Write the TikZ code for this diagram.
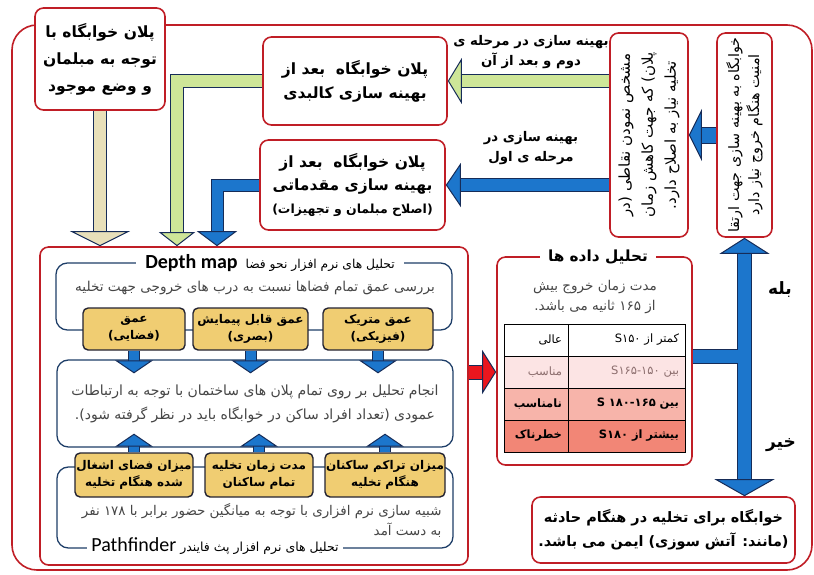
\documentclass[tikz,border=0pt]{standalone}
\usepackage{fontspec}
\usepackage{tikz}
\usetikzlibrary{arrows.meta,calc,positioning}
\TeXXeTstate=1
\newfontfamily\fa[Script=Arabic]{DejaVu Sans}
\newfontfamily\lat{Carlito}
\newcommand{\rl}[1]{\beginR#1\endR}
\newcommand{\lr}[1]{\beginL#1\endL{}}
\definecolor{boxred}{RGB}{192,30,38}
\definecolor{frameblue}{RGB}{30,62,104}
\definecolor{arrowline}{RGB}{22,44,88}
\definecolor{arrowblue}{RGB}{28,118,204}
\definecolor{arrowgreen}{RGB}{206,230,152}
\definecolor{arrowbeige}{RGB}{232,224,186}
\definecolor{arrowred}{RGB}{234,22,30}
\definecolor{goldfill}{RGB}{240,205,114}
\definecolor{goldline}{RGB}{35,35,50}
\definecolor{rowa}{RGB}{252,228,228}
\definecolor{rowb}{RGB}{247,180,170}
\definecolor{rowc}{RGB}{242,134,118}
\definecolor{txtgray}{RGB}{70,70,70}
\definecolor{txtpink}{RGB}{140,110,110}
\begin{document}
\begin{tikzpicture}[x=1pt,y=-1pt]
        %
        % `plan' is used for the red boxes.
        % `blueframe' is used for the thin frames inside the analysis box.
        % `goldbox' is used for the yellow parameter boxes.
        \tikzstyle{plan} = [draw=boxred,fill=white,line width=1.6pt,rounded corners=3mm,align=center,inner sep=2pt]
        \tikzstyle{blueframe} = [draw=frameblue,line width=1.3pt,rounded corners=4mm,minimum width=396pt]
        \tikzstyle{goldbox} = [draw=goldline,fill=goldfill,line width=1.4pt,rounded corners=1.8mm,align=center,inner sep=1pt,font=\fa\bfseries\fontsize{12}{17}\selectfont]
        \tikzstyle{cell} = [draw=black,line width=.7pt,minimum height=32pt,inner xsep=6pt,align=right,font=\fa\fontsize{11.5}{13}\selectfont]
        \tikzstyle{lbl} = [align=center,font=\fa\bfseries\fontsize{13.3}{20}\selectfont]
        \tikzset{fatarrow/.style n args={4}{draw=#1,line width=#2,
             -{Triangle[length=#4,width=#3,fill=#1,color=arrowline,line width'=1pt]},
             preaction={draw=arrowline,line width=#2+2pt,shorten >=#4-1.5pt,-}},
           fatshaft/.style 2 args={draw=#1,line width=#2,preaction={draw=arrowline,line width=#2+2pt}}}
        \useasboundingbox (0,0) rectangle (814,574);
        %
        % Outer frame
        \draw[draw=boxred,line width=1.6pt,rounded corners=25pt] (12,25) rectangle (812,570);
        %
        % Plans
        \node[plan,minimum width=130pt,minimum height=102pt,font=\fa\bfseries\fontsize{15.5}{27}\selectfont] (plancur) at (100,59)
             {\rl{پلان خوابگاه با}\\\rl{توجه به مبلمان}\\\rl{و وضع موجود}};
        \node[plan,minimum width=184pt,minimum height=88pt,font=\fa\bfseries\fontsize{15.5}{24}\selectfont] (plankal) at (355,81)
             {\rl{پلان خوابگاه\ \ بعد از}\\\rl{بهینه سازی کالبدی}};
        \node[plan,minimum width=185pt,minimum height=90pt,font=\fa\bfseries\fontsize{15.5}{23}\selectfont] (planmoq) at (352.5,185)
             {\rl{پلان خوابگاه\ \ بعد از}\\\rl{بهینه سازی مقدماتی}\\{\fontsize{12.5}{23}\selectfont\rl{(اصلاح مبلمان و تجهیزات)}}};
        %
        % Vertical boxes (text turned)
        \node[plan,rotate=90,minimum width=204pt,minimum height=78pt,font=\fa\fontsize{15}{23}\selectfont] (noqat) at (649,135)
             {\rl{مشخص نمودن نقاطی (در}\\\rl{پلان) که جهت کاهش زمان}\\\rl{تخلیه نیاز به اصلاح دارد.}};
        \node[plan,rotate=90,minimum width=204pt,minimum height=55pt,font=\fa\fontsize{14.3}{20}\selectfont] (amniat) at (744.5,135)
             {\rl{خوابگاه به بهینه سازی جهت ارتقا}\\\rl{امنیت هنگام خروج نیاز دارد}};
        %
        % Labels on arrows
        \node[lbl] (lbldovom) at (531,52) {\rl{بهینه سازی در مرحله ی}\\\rl{دوم و بعد از آن}};
        \node[lbl] (lblaval) at (531,148) {\rl{بهینه سازی در}\\\rl{مرحله ی اول}};
        %
        % Analysis box
        \node[plan,minimum width=428pt,minimum height=318pt] (tahlil) at (254,406) {};
        \node[blueframe,minimum height=67pt] (depthrect) at (254,296.5) {};
        \node[fill=white,inner xsep=9pt,inner ysep=1pt,text=txtgray,font=\fa\fontsize{12.3}{13}\selectfont] (depthtitle) at (270,263)
             {\rl{تحلیل های نرم افزار نحو فضا\ \ {\lat\bfseries\fontsize{20}{20}\selectfont\color{black}\lr{Depth map}}}};
        \node[text=txtgray,font=\fa\fontsize{13.6}{15}\selectfont] (depthtxt) at (255,288)
             {\rl{بررسی عمق تمام فضاها نسبت به درب های خروجی جهت تخلیه}};
        \node[blueframe,minimum height=87pt,align=center,text=txtgray,font=\fa\fontsize{14}{24}\selectfont] (amudi) at (255,403.5)
             {\rl{انجام تحلیل بر روی تمام پلان های ساختمان با توجه به ارتباطات}\\\rl{عمودی (تعداد افراد ساکن در خوابگاه باید در نظر گرفته شود).}};
        \node[blueframe,minimum height=81pt] (pathrect) at (255,507.5) {};
        \node[anchor=east,align=right,text=txtgray,font=\fa\fontsize{13.4}{20}\selectfont] (simtxt) at (445,520)
             {\rl{شبیه سازی نرم افزاری با توجه به میانگین حضور برابر با ۱۷۸ نفر}\\\rl{به دست آمد}};
        \node[fill=white,inner xsep=4pt,inner ysep=0pt,text=txtgray,font=\fa\fontsize{12.5}{13}\selectfont] (pathtitle) at (215,546)
             {\rl{تحلیل های نرم افزار پث فایندر\ {\lat\fontsize{20}{20}\selectfont\color{black}\lr{Pathfinder}}}};
        %
        % Depth map parameters
        \node[goldbox,minimum width=102pt,minimum height=42pt] (gt1) at (134,329) {\rl{عمق}\\\rl{(فضایی)}};
        \node[goldbox,minimum width=115pt,minimum height=42pt] (gt2) at (250.5,329) {\rl{عمق قابل پیمایش}\\\rl{(بصری)}};
        \node[goldbox,minimum width=110pt,minimum height=42pt] (gt3) at (378,329) {\rl{عمق متریک}\\\rl{(فیزیکی)}};
        %
        % Pathfinder parameters
        \node[goldbox,minimum width=118pt,minimum height=44pt] (gb1) at (134,475) {\rl{میزان فضای اشغال}\\\rl{شده هنگام تخلیه}};
        \node[goldbox,minimum width=108pt,minimum height=44pt] (gb2) at (259,475) {\rl{مدت زمان تخلیه}\\\rl{تمام ساکنان}};
        \node[goldbox,minimum width=120pt,minimum height=44pt] (gb3) at (385,475) {\rl{میزان تراکم ساکنان}\\\rl{هنگام تخلیه}};
        %
        % Data analysis box
        \node[plan,minimum width=195pt,minimum height=208pt] (dadeh) at (594.5,361) {};
        \node[fill=white,inner xsep=8pt,font=\fa\bfseries\fontsize{15.3}{16}\selectfont] (dadehtitle) at (598,257) {\rl{تحلیل داده ها}};
        \node[align=center,text=txtgray,font=\fa\fontsize{13.5}{20}\selectfont] (dadehtxt) at (595,297)
             {\rl{مدت زمان خروج بیش}\\\rl{از ۱۶۵ ثانیه می باشد.}};
        \foreach \i/\rowcol/\tcol/\fw/\lbltxt/\rng in {1/white/black/\mdseries/عالی/{کمتر از \lr{S۱۵۰}},
                                                  2/rowa/txtpink/\mdseries/مناسب/{بین \lr{S۱۶۵-۱۵۰}},
                                                  3/rowb/black/\bfseries/نامناسب/{بین \lr{S ۱۸۰-۱۶۵}},
                                                  4/rowc/black/\bfseries/خطرناک/{بیشتر از \lr{S۱۸۰}}}{
             \node[cell,fill=\rowcol,text=\tcol,text width=52pt] (ca\i) at (536,308+32*\i) {\fw\rl{\lbltxt}};
             \node[cell,fill=\rowcol,text=\tcol,text width=105pt] (cb\i) at (626.5,308+32*\i) {\fw\rl{\rng}};
        }
        %
        % Safe result
        \node[plan,minimum width=263pt,minimum height=66pt,font=\fa\bfseries\fontsize{14.4}{24}\selectfont] (amn) at (663.5,530)
             {\rl{خوابگاه برای تخلیه در هنگام حادثه}\\\rl{(مانند: آتش سوزی) ایمن می باشد.}};
        \node[lbl,font=\fa\bfseries\fontsize{17}{20}\selectfont] (bale) at (780,290) {\rl{بله}};
        \node[lbl,font=\fa\bfseries\fontsize{17}{20}\selectfont] (kheir) at (781,445) {\rl{خیر}};
        %
        % Arrows (top part)
        \draw[fatarrow={arrowblue}{15pt}{52pt}{13pt}] (amniat.north) -- (noqat.south);
        \draw[fatarrow={arrowgreen}{12pt}{46pt}{14pt}] (noqat.north |- plankal.east) -- (plankal.east);
        \draw[fatarrow={arrowblue}{12pt}{44pt}{15pt}] (noqat.north |- planmoq.east) -- (planmoq.east);
        \draw[fatarrow={arrowbeige}{12pt}{60pt}{15pt}] (plancur.south) -- (plancur.south |- tahlil.north);
        \draw[fatarrow={arrowgreen}{12pt}{36pt}{14pt}] (plankal.west) -| ([xshift=-77pt]tahlil.north);
        \draw[fatarrow={arrowblue}{11pt}{40pt}{15pt}] (planmoq.west) -| ([xshift=-37pt]tahlil.north);
        %
        % Arrows (analysis box)
        \foreach \k in {1,2,3}{
             \draw[fatarrow={arrowblue}{10pt}{38pt}{13pt}] (gt\k.south) -- ($(gt\k.south |- amudi.north)+(0,14)$);
             \draw[fatarrow={arrowblue}{10pt}{38pt}{13pt}] (gb\k.north) -- ($(gb\k.north |- amudi.south)+(0,-14)$);
        }
        \draw[fatarrow={arrowred}{13pt}{44pt}{14pt}] (tahlil.east |- ca2) -- (dadeh.west |- ca2);
        %
        % Decision branch
        \coordinate (junc) at (amniat.west |- cb1.south);
        \draw[fatarrow={arrowblue}{13pt}{50pt}{16pt}] (junc) -- (amniat.west);
        \draw[fatarrow={arrowblue}{13pt}{60pt}{17pt}] (junc) -- (junc |- amn.north);
        \draw[fatshaft={arrowblue}{13pt}] (dadeh.east |- junc) -- ([xshift=-6.5pt]junc);
        %
    \end{tikzpicture}
\end{document}
